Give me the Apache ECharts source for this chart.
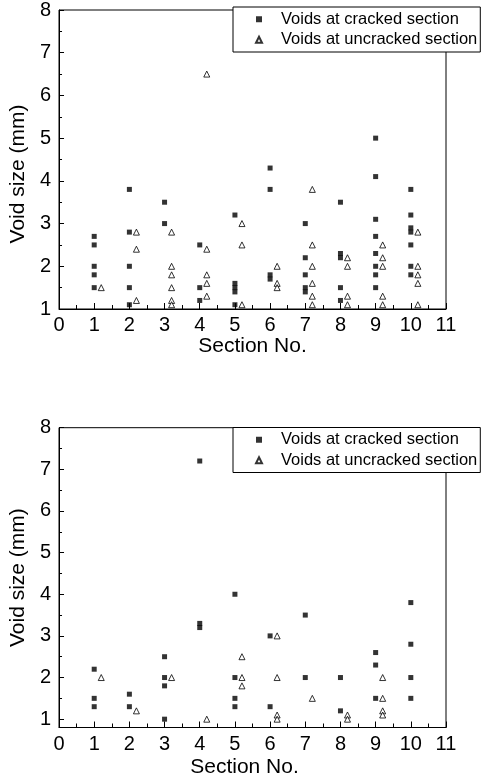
<!DOCTYPE html>
<html>
<head>
<meta charset="utf-8">
<script src="https://cdn.jsdelivr.net/npm/echarts@6/dist/echarts.min.js"></script>
<style>
  html, body { margin: 0; padding: 0; background: #fff; }
  #chart { width: 484px; height: 784px; }
</style>
</head>
<body>
<div id="chart"></div>
<script>
const sections = [1, 2, 3, 4, 5, 6, 7, 8, 9, 10];
const seriesNames = ['Voids at cracked section', 'Voids at uncracked section'];
const yMajorTicks = [1, 2, 3, 4, 5, 6, 7, 8];
const yMinorTicks = [1.5, 2.5, 3.5, 4.5, 5.5, 6.5, 7.5];

// void sizes (mm) per section, upper figure
const topCracked = [
  [2.7, 2.5, 2.0, 1.8, 1.5],
  [3.8, 2.8, 2.0, 1.5, 1.1],
  [3.5, 3.0],
  [2.5, 1.5, 1.2],
  [3.2, 1.6, 1.5, 1.4, 1.1],
  [4.3, 3.8, 1.8, 1.7],
  [3.0, 2.2, 1.8, 1.5, 1.4],
  [3.5, 2.3, 2.2, 1.5, 1.2],
  [5.0, 4.1, 3.1, 2.7, 2.3, 2.0, 1.8, 1.5],
  [3.8, 3.2, 2.9, 2.8, 2.5, 2.0, 1.8]
];
const topUncracked = [
  [1.5],
  [2.8, 2.4, 1.2],
  [2.8, 2.0, 1.8, 1.5, 1.2, 1.1],
  [6.5, 2.4, 1.8, 1.6, 1.3],
  [3.0, 2.5, 1.1],
  [2.0, 1.6, 1.5],
  [3.8, 2.5, 2.0, 1.6, 1.3, 1.1],
  [2.2, 2.0, 1.3, 1.1],
  [2.5, 2.2, 2.0, 1.3, 1.1],
  [2.8, 2.0, 1.8, 1.6, 1.1]
];

// lower figure
const bottomCracked = [
  [2.2, 1.5, 1.3],
  [1.6, 1.3],
  [2.5, 2.0, 1.8, 1.0],
  [7.2, 3.3, 3.2],
  [4.0, 2.0, 1.5, 1.3],
  [3.0, 1.3],
  [3.5, 2.0],
  [2.0, 1.2],
  [2.6, 2.3, 1.5],
  [3.8, 2.8, 2.0, 1.5]
];
const bottomUncracked = [
  [2.0],
  [1.2],
  [2.0],
  [1.0],
  [2.5, 2.0, 1.8],
  [3.0, 2.0, 1.1, 1.0],
  [1.5],
  [1.1, 1.0],
  [2.0, 1.5, 1.2, 1.1],
  []
];

// uncracked voids are plotted a little to the right of the section number
const SHIFT = 0.2;

function toPoints(groups, shift) {
  const pts = [];
  groups.forEach((vals, i) => {
    vals.forEach(v => pts.push([sections[i] + shift, v]));
  });
  return pts;
}

const FONT = '"Liberation Sans", Arial, sans-serif';

function xAxisFor(grid, labelMargin, nameGap, namePad) {
  return {
    type: 'value', gridIndex: grid, min: 0, max: 11, interval: 1,
    name: 'Section No.', nameLocation: 'middle', nameGap: nameGap,
    nameTextStyle: { fontSize: 21, color: '#000', fontFamily: FONT, padding: namePad },
    axisLine: { lineStyle: { color: '#000', width: 1 } },
    axisTick: { inside: true, length: 6, lineStyle: { color: '#000' } },
    minorTick: { show: true, splitNumber: 2, length: 4, lineStyle: { color: '#000' } },
    axisLabel: { fontSize: 20, color: '#000', fontFamily: FONT, margin: labelMargin },
    splitLine: { show: false }
  };
}

function yAxesFor(grid, min, namePad) {
  return [{
    type: 'value', gridIndex: grid, position: 'left', min: min, max: 8,
    name: 'Void size (mm)', nameLocation: 'middle', nameGap: 20,
    nameTextStyle: { fontSize: 21, color: '#000', fontFamily: FONT, padding: namePad },
    axisLine: { show: true, lineStyle: { color: '#000', width: 1 } },
    axisTick: { inside: true, length: 5, customValues: yMajorTicks, lineStyle: { color: '#000' } },
    axisLabel: { fontSize: 20, color: '#000', fontFamily: FONT, margin: 8, customValues: yMajorTicks },
    splitLine: { show: false }
  }, {
    type: 'value', gridIndex: grid, position: 'left', min: min, max: 8,
    axisLine: { show: false },
    axisTick: { inside: true, length: 3, customValues: yMinorTicks, lineStyle: { color: '#000' } },
    axisLabel: { show: false },
    splitLine: { show: false }
  }];
}

function legendFor(top) {
  return {
    orient: 'vertical', left: 233, top: top,
    data: seriesNames,
    itemWidth: 6, itemHeight: 6, itemGap: 0,
    padding: [2, 3, 2, 22],
    backgroundColor: '#fff', borderColor: '#000', borderWidth: 1, borderRadius: 0,
    textStyle: { fontSize: 16.5, color: '#000', fontFamily: FONT, lineHeight: 20.5, padding: [0, 0, 0, 14] }
  };
}

function scatterPair(xi, yi, cracked, uncracked) {
  return [{
    name: seriesNames[0], type: 'scatter', xAxisIndex: xi, yAxisIndex: yi,
    symbol: 'rect', symbolSize: 5,
    itemStyle: { color: '#000' },
    data: toPoints(cracked, 0)
  }, {
    name: seriesNames[1], type: 'scatter', xAxisIndex: xi, yAxisIndex: yi,
    symbol: 'triangle', symbolSize: 6,
    itemStyle: { color: '#fff', borderColor: '#000', borderWidth: 1 },
    data: toPoints(uncracked, SHIFT)
  }];
}

const chart = echarts.init(document.getElementById('chart'));
chart.setOption({
  animation: false,
  backgroundColor: '#fff',
  grid: [
    { left: 55.5, top: 7.5, width: 390.5, height: 301.5, show: true, borderColor: '#000', borderWidth: 1 },
    { left: 55.5, top: 427.7, width: 390.5, height: 299.8, show: true, borderColor: '#000', borderWidth: 1 }
  ],
  legend: [legendFor(7), legendFor(427.5)],
  xAxis: [xAxisFor(0, 6, 27, [0, 0, 0, 0]), xAxisFor(1, 7, 29, [0, 16, 0, 0])],
  yAxis: [].concat(yAxesFor(0, 1, [0, 29, 0, 0]), yAxesFor(1, 0.8, [0, 0, 0, 0])),
  series: [].concat(
    scatterPair(0, 0, topCracked, topUncracked),
    scatterPair(1, 2, bottomCracked, bottomUncracked)
  )
});
</script>
</body>
</html>
